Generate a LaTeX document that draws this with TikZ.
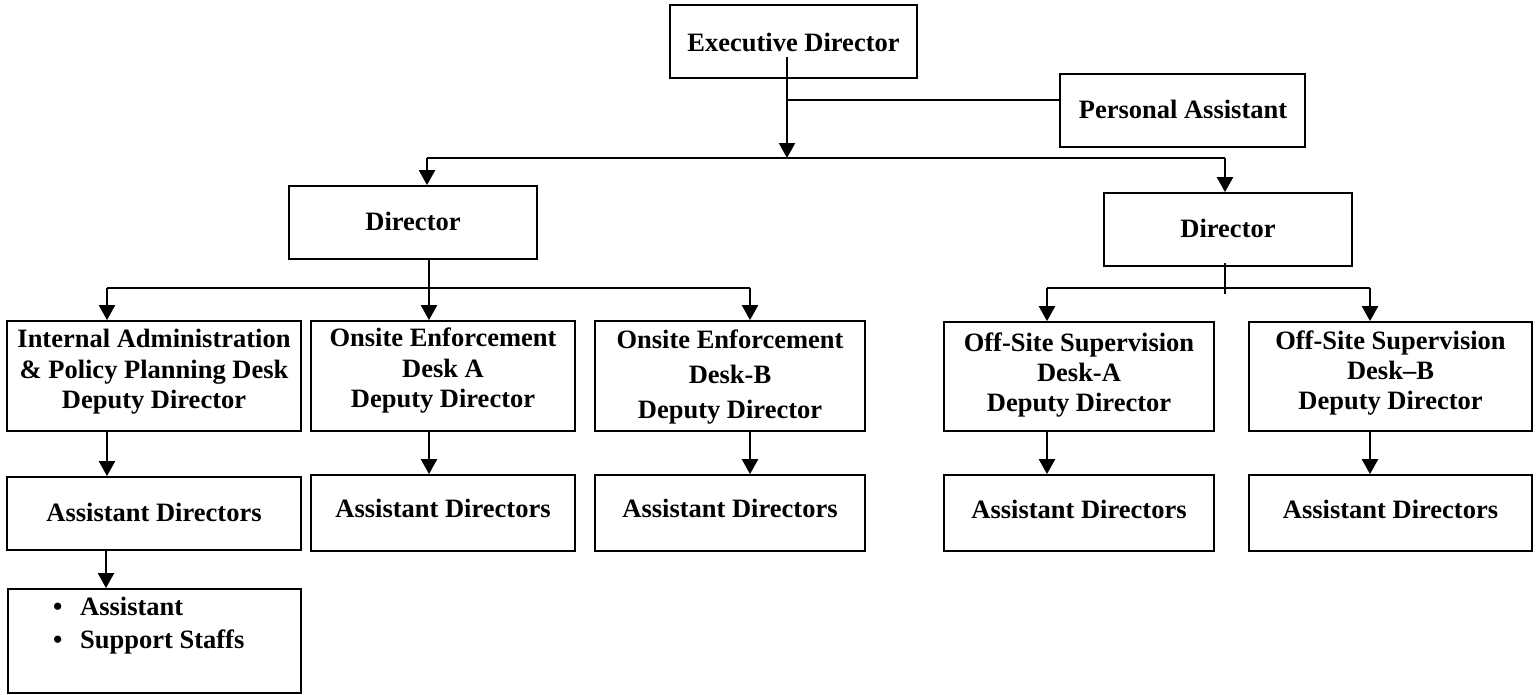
\documentclass[tikz,border=0pt]{standalone}
\usepackage{fontspec}
\setmainfont{Liberation Serif}
\usetikzlibrary{arrows.meta}
\begin{document}
\begin{tikzpicture}[x=1pt,y=-1pt,
  box/.style={draw, line width=1.8pt, inner sep=0pt},
  txt/.style={font=\bfseries\fontsize{26.5}{30.5}\selectfont, align=center, inner sep=0pt},
  txtwide/.style={font=\bfseries\fontsize{26.5}{35}\selectfont, align=center, inner sep=0pt},
  ln/.style={line width=2.2pt},
  arr/.style={line width=2.2pt, -{Triangle[width=16pt,length=15pt]}}]
\useasboundingbox (0,0) rectangle (1540,694);
% boxes
\node[box, minimum width=247pt, minimum height=73pt] (ed) at (793.5,41.5) {};
\node[box, minimum width=245pt, minimum height=73pt] (pa) at (1182.5,110.5) {};
\node[box, minimum width=248pt, minimum height=73pt] (d1) at (413,222.5) {};
\node[box, minimum width=248pt, minimum height=73pt] (d2) at (1228,229.5) {};
\node[box, minimum width=294pt, minimum height=110pt] (ia) at (154,376) {};
\node[box, minimum width=264pt, minimum height=110pt] (oa) at (443,376) {};
\node[box, minimum width=270pt, minimum height=110pt] (ob) at (730,376) {};
\node[box, minimum width=270pt, minimum height=109pt] (sa) at (1079,376.5) {};
\node[box, minimum width=283pt, minimum height=109pt] (sb) at (1390.5,376.5) {};
\node[box, minimum width=294pt, minimum height=73pt] (ad1) at (154,513.5) {};
\node[box, minimum width=264pt, minimum height=76pt] (ad2) at (443,513) {};
\node[box, minimum width=270pt, minimum height=76pt] (ad3) at (730,513) {};
\node[box, minimum width=270pt, minimum height=76pt] (ad4) at (1079,513) {};
\node[box, minimum width=283pt, minimum height=76pt] (ad5) at (1390.5,513) {};
\node[box, minimum width=293pt, minimum height=104pt] (bl) at (154.5,641) {};
% texts
\node[txt] (edt) at (793.5,42) {Executive Director};
\node[txt] (pat) at (1183,109) {Personal Assistant};
\node[txt] (d1t) at (413,221) {Director};
\node[txt] (d2t) at (1228,228) {Director};
\node[txt] (iat) at (154,372) {Internal Administration\\\& Policy Planning Desk\\Deputy Director};
\node[txt] (oat) at (443,371) {Onsite Enforcement\\Desk A\\Deputy Director};
\node[txtwide] (obt) at (730,376.7) {Onsite Enforcement\\Desk-B\\Deputy Director};
\node[txt, font=\bfseries\fontsize{26.5}{30}\selectfont] (sat) at (1079,374.6) {Off-Site Supervision\\Desk-A\\Deputy Director};
\node[txt, font=\bfseries\fontsize{26.5}{30}\selectfont] (sbt) at (1390.5,372.6) {Off-Site Supervision\\Desk--B\\Deputy Director};
\node[txt] (ad1t) at (154,512.5) {Assistant Directors};
\node[txt] (ad2t) at (443,508) {Assistant Directors};
\node[txt] (ad3t) at (730,508) {Assistant Directors};
\node[txt] (ad4t) at (1079,509) {Assistant Directors};
\node[txt] (ad5t) at (1390.5,509) {Assistant Directors};
\node[txt, align=left, anchor=west, font=\bfseries\fontsize{26.5}{33}\selectfont] (blt) at (53,626)
  {\makebox[27pt][l]{\textbullet}Assistant\\\makebox[27pt][l]{\textbullet}Support Staffs};
% junction coordinates
\coordinate (edtop) at (787,57);
\coordinate (busM) at (787,158);
\coordinate (busL) at (427,158);
\coordinate (busR) at (1225,158);
\coordinate (edj) at (787,100);
\coordinate (paj) at (1060,100);
\coordinate (d1a) at (429,259);
\coordinate (sbM) at (429,288);
\coordinate (sbL) at (107,288);
\coordinate (sbR) at (750,288);
\coordinate (d2a) at (1225,263);
\coordinate (d2b) at (1225,294);
\coordinate (rbL) at (1047,288);
\coordinate (rbR) at (1370,288);
% connectors
\draw[arr] (edtop) -- (busM);
\draw[ln] (paj) -- (edj);
\draw[ln] (busL) -- (busR);
\draw[arr] (busL) -- (busL |- d1.north);
\draw[arr] (busR) -- (busR |- d2.north);
\draw[ln] (d1a) -- (sbM);
\draw[ln] (sbL) -- (sbR);
\draw[arr] (sbL) -- (sbL |- ia.north);
\draw[arr] (sbM) -- (sbM |- oa.north);
\draw[arr] (sbR) -- (sbR |- ob.north);
\draw[arr] (ia.south -| sbL) -- (ad1.north -| sbL);
\draw[arr] (oa.south -| sbM) -- (ad2.north -| sbM);
\draw[arr] (ob.south -| sbR) -- (ad3.north -| sbR);
\draw[arr] ([xshift=-1pt]ad1.south -| sbL) -- ([xshift=-1pt]bl.north -| sbL);
\draw[ln] (d2a) -- (d2b);
\draw[ln] (rbL) -- (rbR);
\draw[arr] (rbL) -- (rbL |- sa.north);
\draw[arr] (rbR) -- (rbR |- sb.north);
\draw[arr] (sa.south -| rbL) -- (ad4.north -| rbL);
\draw[arr] (sb.south -| rbR) -- (ad5.north -| rbR);
\end{tikzpicture}
\end{document}
